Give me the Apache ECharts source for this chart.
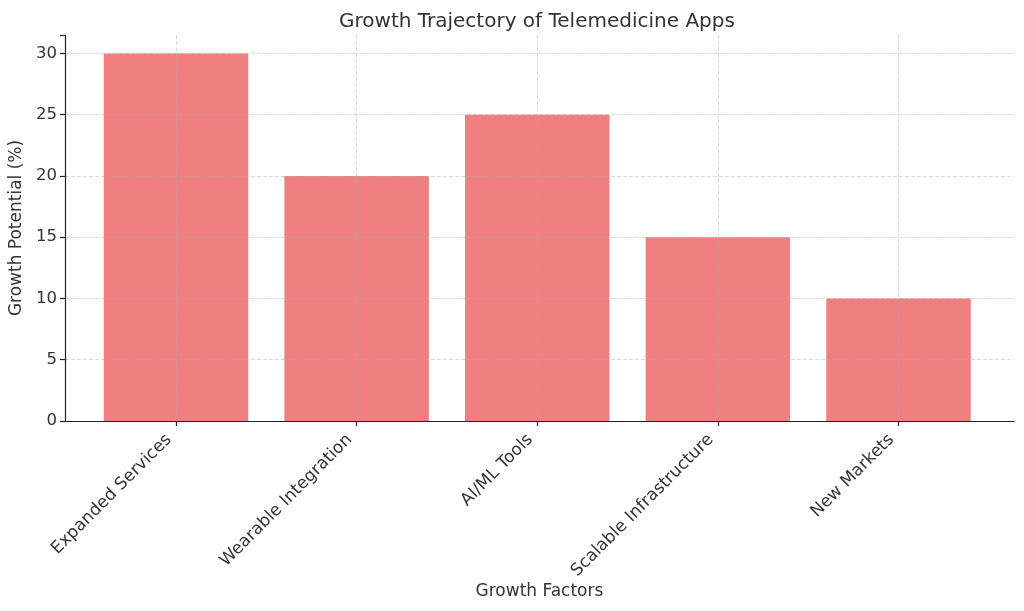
<!DOCTYPE html>
<html>
<head>
<meta charset="utf-8">
<script src="https://cdn.jsdelivr.net/npm/echarts@6/dist/echarts.min.js"></script>
<style>html,body{margin:0;padding:0;background:#fff;}#c{width:1024px;height:611px;}</style>
</head>
<body>
<div id="c"></div>
<script>
const categories = ['Expanded Services', 'Wearable Integration', 'AI/ML Tools', 'Scalable Infrastructure', 'New Markets'];
const growthValues = [30, 20, 25, 15, 10];
const yTicks = [0, 5, 10, 15, 20, 25, 30];

const FONT = 'DejaVu Sans';
const chart = echarts.init(document.getElementById('c'), null, {renderer: 'canvas'});
const gridLine = {show: true, showMaxLine: false, lineStyle: {color: 'rgba(170,170,170,0.55)', type: [4, 2], width: 0.8}};
chart.setOption({
  animation: false,
  title: {
    text: 'Growth Trajectory of Telemedicine Apps',
    left: 334, top: 7,
    textStyle: {fontFamily: FONT, fontSize: 20, fontWeight: 'normal', color: '#333'}
  },
  grid: [
    {left: 60, right: 10, top: 35, bottom: 190},
    {left: 176, right: 125.5, top: 35, bottom: 190}
  ],
  xAxis: [
    {
      gridIndex: 0, type: 'value', min: 0, max: 1, z: 3,
      axisLine: {show: true, onZero: false, lineStyle: {color: '#222', width: 1.2}},
      axisTick: {show: false}, axisLabel: {show: false}, splitLine: {show: false},
      name: 'Growth Factors', nameLocation: 'middle', nameGap: 162,
      nameTextStyle: {fontFamily: FONT, fontSize: 17, color: '#333'}
    },
    {
      gridIndex: 1, type: 'category', data: categories, z: 3, boundaryGap: false,
      axisLine: {show: false},
      axisTick: {show: true, length: 5, lineStyle: {color: '#222', width: 1.2}},
      axisLabel: {rotate: 45, fontFamily: FONT, fontSize: 17, color: '#333', margin: 9, interval: 0, padding: [0, 10, 0, 0]},
      splitLine: {show: true, lineStyle: {color: 'rgba(170,170,170,0.55)', type: [4, 2], width: 0.8}}
    }
  ],
  yAxis: [
    {
      gridIndex: 0, type: 'value', min: 0, max: 31.5, interval: 5, z: 3,
      axisLine: {show: true, lineStyle: {color: '#222', width: 1.2}},
      axisTick: {show: true, length: 5, lineStyle: {color: '#222', width: 1.2}},
      axisLabel: {
        fontFamily: FONT, fontSize: 16.5, color: '#333', margin: 8,
        customValues: yTicks,
        formatter: v => yTicks.includes(v) ? String(v) : ''
      },
      splitLine: gridLine,
      name: 'Growth Potential (%)', nameLocation: 'middle', nameGap: 34,
      nameTextStyle: {fontFamily: FONT, fontSize: 17, color: '#333'}
    },
    {
      gridIndex: 1, type: 'value', min: 0, max: 31.5, show: false, splitLine: {show: false}
    }
  ],
  series: [{
    type: 'bar', xAxisIndex: 1, yAxisIndex: 1, z: 2, clip: false,
    data: growthValues, barWidth: '80%',
    itemStyle: {color: '#F08080'}
  }]
});
</script>
</body>
</html>
